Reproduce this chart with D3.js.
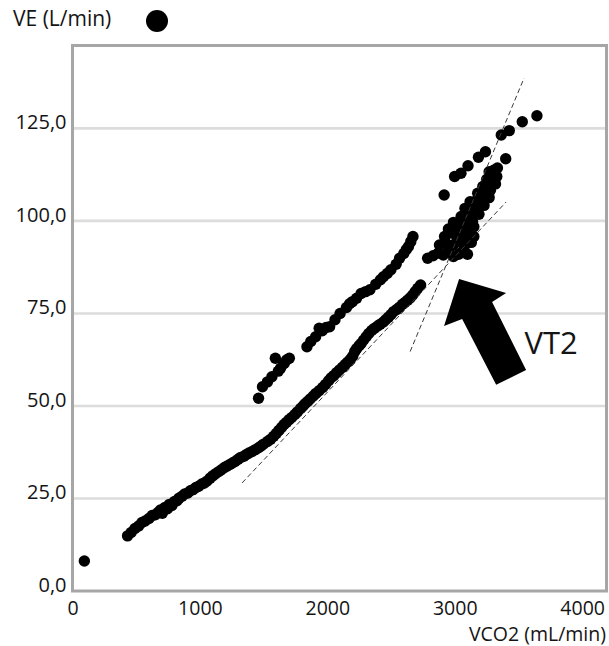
<!DOCTYPE html>
<html>
<head>
<meta charset="utf-8">
<script src="https://cdn.jsdelivr.net/npm/d3@7/dist/d3.min.js"></script>
<style>
  html, body { margin: 0; padding: 0; background: #fff; }
  svg { display: block; }
  text { font-family: "Open Sans", "Noto Sans", sans-serif; fill: #141414; }
</style>
</head>
<body>
<svg id="chart" width="609" height="646"></svg>
<script>
// ---- Data (VCO2 in mL/min, VE in L/min) ----
const xTicks = [0, 1000, 2000, 3000, 4000];
const yTicks = [0, 25, 50, 75, 100, 125];
const xTitle = "VCO2 (mL/min)";
const yTitle = "VE (L/min)";
const annotationLabel = "VT2";

const firstPointVCO2 = [93];
const firstPointVE = [8.1];

const lowerVCO2 = [432,460,490,520,545,570,600,625,650,671,690,705,726,745,760,780,800,820,836,860,880,905,925,946,970,990,1015,1035,1056,1080,1100,1120,1145,1166,1190,1210,1235,1255,1276,1300,1320,1345,1365,1385,1410,1435,1460,1480,1500,1530,1555,1579,1600,1620,1640,1660,1680,1700,1720,1745,1765,1790,1810,1825,1845,1865,1890,1910,1935,1963,1985,2010,2030,2050,2073,2095,2120,2140,2160,2183,2200,2215,2230,2250,2265,2285,2305,2325,2348,2370,2395,2415,2440,2458,2480,2500,2520,2545,2567,2590,2610,2630,2650,2670,2690,2710,2732];
const lowerVE =   [14.9,15.8,16.9,17.6,18.5,18.9,19.6,20.4,20.6,21.2,21.9,21.0,22.6,22.2,23.4,23.1,24.2,24.4,25.1,25.6,26.2,26.5,27.1,27.4,28.0,28.3,28.9,29.2,29.7,30.5,31.1,31.6,32.2,32.7,33.3,33.7,34.2,34.6,35.0,35.6,36.1,36.4,36.9,37.3,37.7,38.2,38.7,39.2,39.7,40.4,41.0,41.8,42.6,43.4,44.2,45.0,45.6,46.3,46.9,47.7,48.4,49.3,50.0,50.6,51.2,51.9,52.7,53.4,54.1,55.0,55.8,56.8,57.6,58.2,59.0,59.7,60.5,61.2,61.9,62.7,63.5,64.7,65.5,66.3,66.9,67.8,68.7,69.6,70.4,71.0,71.6,72.1,72.7,73.3,74.0,74.7,75.5,76.1,76.7,77.5,78.0,78.6,79.2,80.0,80.9,81.8,82.7];

const upperVCO2 = [1460,1491,1530,1565,1592,1615,1633,1661,1680,1702,1840,1870,1908,1936,1960,1990,2018,2060,2100,2150,2175,2197,2230,2265,2300,2334,2380,2417,2440,2470,2499,2540,2567,2600,2620,2637,2655,2672];
const upperVE =   [52.1,55.2,56.5,57.9,62.9,59.4,60.2,61.5,62.4,62.9,66.0,67.4,68.7,71.0,70.3,71.2,71.4,73.3,75.0,76.6,77.6,78.2,79.1,80.4,80.9,81.4,82.9,84.1,84.9,85.8,86.8,88.3,89.9,91.2,92.3,93.1,94.4,95.8];

const clusterVCO2 = [2787,2830,2870,2910,2953,2990,3030,3060,3100,
                     2880,2930,2990,3040,3090,3130,
                     2920,2970,3020,3070,3120,3150,
                     2950,3000,3050,3100,3150,
                     2990,3040,3090,3140,
                     3050,3100,3150,3190,
                     3080,3130,3180,3230,
                     3120,3170,3220,3270,
                     3180,3230,3280,
                     3220,3270,3320,
                     3250,3300,3330,
                     3270,3310,3335];
const clusterVE =   [89.9,90.6,91.3,90.8,92.2,90.4,91.0,91.7,91.0,
                     93.5,94.0,93.6,94.4,93.8,94.2,
                     95.8,96.7,95.5,96.2,96.7,95.8,
                     97.8,97.3,98.0,97.6,98.4,
                     99.6,99.4,100.0,99.8,
                     101.2,101.6,102.1,101.8,
                     103.4,103.6,103.9,104.2,
                     105.2,105.5,106.0,106.3,
                     107.5,107.9,108.3,
                     109.3,109.7,110.0,
                     111.2,111.8,112.0,
                     113.3,113.8,114.3];

const topVCO2 = [2917,2999,3049,3104,3186,3241,3365,3428,3530,3645,3400];
const topVE =   [107.0,112.0,112.9,114.9,117.2,118.7,123.2,124.4,126.8,128.4,116.8];

// dashed trend lines, as [VCO2, VE] end points
const trendLowX = [1331, 3403];
const trendLowY = [29.2, 105.1];
const trendHighX = [2650, 3544];
const trendHighY = [64.7, 138.6];

// arrow outline in data units
const arrowX = [3034, 3403, 3293, 3560, 3325, 3058, 2916];
const arrowY = [84.3, 80.5, 78.1, 59.7, 55.7, 73.5, 71.6];
const labelPos = [3548, 64.1];

// ---- Chart ----
const svg = d3.select("#chart");
const xMax = 4191, yMax = 147.4;
const x = d3.scaleLinear().domain([0, xMax]).range([72.5, 606.5]);
const y = d3.scaleLinear().domain([0, yMax]).range([591, 45.5]);

const loc = d3.formatLocale({decimal: ",", thousands: ".", grouping: [3], currency: ["", ""]});
const yFmt = loc.format(".1f");

// gridlines
svg.append("g").selectAll("line")
  .data(yTicks.filter(d => d > 0))
  .join("line")
  .attr("x1", x(0)).attr("x2", x(xMax))
  .attr("y1", d => y(d)).attr("y2", d => y(d))
  .attr("stroke", "#dcdcdc").attr("stroke-width", 2.6);

// y axis labels
const yAxis = d3.axisLeft(y).tickValues(yTicks).tickFormat(yFmt).tickSize(0).tickPadding(6);
const gy = svg.append("g").attr("transform", `translate(${x(0)},0)`).call(yAxis);
gy.select(".domain").remove();
gy.selectAll("text").attr("font-size", 20).attr("dy", "0.02em")
  .attr("font-family", "'Open Sans', sans-serif").attr("fill", "#141414");

// x axis labels
const xAxis = d3.axisBottom(x).tickValues(xTicks).tickFormat(d3.format("d")).tickSize(0).tickPadding(10);
const gx = svg.append("g").attr("transform", `translate(0,${y(0)})`).call(xAxis);
gx.select(".domain").remove();
gx.selectAll("text").attr("font-size", 19.5)
  .attr("font-family", "'Open Sans', sans-serif").attr("fill", "#141414");

// points
const pts = [];
const addSeries = (xs, ys) => xs.forEach((v, i) => pts.push([v, ys[i]]));
addSeries(firstPointVCO2, firstPointVE);
addSeries(lowerVCO2, lowerVE);
addSeries(upperVCO2, upperVE);
addSeries(clusterVCO2, clusterVE);
addSeries(topVCO2, topVE);

svg.append("g").selectAll("circle")
  .data(pts).join("circle")
  .attr("cx", d => x(d[0])).attr("cy", d => y(d[1]))
  .attr("r", 5.7).attr("fill", "#000");

// dashed trend lines
const line = d3.line().x(d => x(d[0])).y(d => y(d[1]));
[[trendLowX, trendLowY], [trendHighX, trendHighY]].forEach(([xs, ys]) => {
  svg.append("path")
    .attr("d", line(xs.map((v, i) => [v, ys[i]])))
    .attr("fill", "none").attr("stroke", "#3a3a3a")
    .attr("stroke-width", 1).attr("stroke-dasharray", "5,3");
});

// frame
svg.append("rect")
  .attr("x", x(0)).attr("y", y(yMax))
  .attr("width", x(xMax) - x(0)).attr("height", y(0) - y(yMax))
  .attr("fill", "none").attr("stroke", "#a6a6a6").attr("stroke-width", 3);

// arrow
svg.append("path")
  .attr("d", line(arrowX.map((v, i) => [v, arrowY[i]])) + "Z")
  .attr("fill", "#000");

svg.append("text")
  .attr("x", x(labelPos[0])).attr("y", y(labelPos[1]))
  .attr("text-anchor", "start").attr("font-size", 31)
  .text(annotationLabel);

// axis titles
svg.append("text").attr("x", 13).attr("y", 26).attr("font-size", 21).text(yTitle);
svg.append("circle").attr("cx", 157).attr("cy", 21).attr("r", 11).attr("fill", "#000");
svg.append("text").attr("x", 606).attr("y", 640.5).attr("text-anchor", "end").attr("font-size", 19.5).text(xTitle);
</script>
</body>
</html>
